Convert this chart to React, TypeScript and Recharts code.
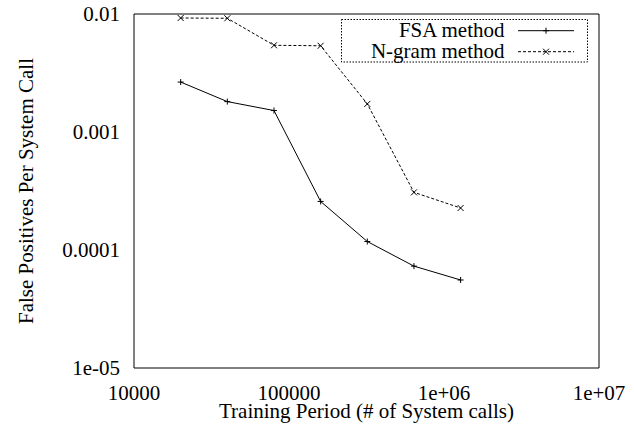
import { LineChart, Line, XAxis, YAxis, Legend, Label } from 'recharts';

const TRAINING_CALLS = [20000, 40000, 80000, 160000, 320000, 640000, 1280000];
const FSA_RATE = [0.00265, 0.00181, 0.00152, 0.000258, 0.000118, 0.000073, 0.0000557];
const NGRAM_RATE = [0.00925, 0.0092, 0.00543, 0.00538, 0.00173, 0.000308, 0.000227];

const X_TICKS = [1e4, 1e5, 1e6, 1e7];
const X_TICK_LABELS = ['10000', '100000', '1e+06', '1e+07'];
const X_MINOR_TICKS = [
  2e4, 3e4, 4e4, 5e4, 6e4, 7e4, 8e4, 9e4,
  2e5, 3e5, 4e5, 5e5, 6e5, 7e5, 8e5, 9e5,
  2e6, 3e6, 4e6, 5e6, 6e6, 7e6, 8e6, 9e6,
];
const Y_TICKS = [1e-5, 1e-4, 1e-3, 1e-2];
const Y_TICK_LABELS = ['1e-05', '0.0001', '0.001', '0.01'];
const Y_MINOR_TICKS = [
  2e-5, 3e-5, 4e-5, 5e-5, 6e-5, 7e-5, 8e-5, 9e-5,
  2e-4, 3e-4, 4e-4, 5e-4, 6e-4, 7e-4, 8e-4, 9e-4,
  2e-3, 3e-3, 4e-3, 5e-3, 6e-3, 7e-3, 8e-3, 9e-3,
];

const SERIES = [
  { key: 'fsa', name: 'FSA method', dash: undefined as string | undefined, marker: 'plus' },
  { key: 'ngram', name: 'N-gram method', dash: '3 2', marker: 'cross' },
];

const data = TRAINING_CALLS.map((x, i) => ({ x, fsa: FSA_RATE[i], ngram: NGRAM_RATE[i] }));

const FONT = '"Liberation Serif", "Times New Roman", serif';
const X_DOMAIN = [1e4, 1e7];
const Y_DOMAIN = [1e-5, 1e-2];

function Marker({ cx, cy, kind }: { cx: number; cy: number; kind: string }) {
  const r = 3;
  if (kind === 'plus') {
    return (
      <g stroke="#000" strokeWidth={1}>
        <line x1={cx - r} y1={cy} x2={cx + r} y2={cy} />
        <line x1={cx} y1={cy - r} x2={cx} y2={cy + r} />
      </g>
    );
  }
  return (
    <g stroke="#000" strokeWidth={1}>
      <line x1={cx - r} y1={cy - r} x2={cx + r} y2={cy + r} />
      <line x1={cx - r} y1={cy + r} x2={cx + r} y2={cy - r} />
    </g>
  );
}

function KeyBox() {
  return (
    <svg width={247} height={44} style={{ display: 'block', overflow: 'visible' }}>
      <rect x={0.5} y={0.5} width={246} height={42.5} fill="#fff" stroke="#000" strokeWidth={1} strokeDasharray="1.5 1.5" />
      {SERIES.map((s, i) => {
        const cy = 11.7 + i * 21;
        return (
          <g key={s.key}>
            <text x={163.5} y={cy + 6.5} textAnchor="end" fontFamily={FONT} fontSize={21} fill="#000">
              {s.name}
            </text>
            <line x1={177} y1={cy} x2={233} y2={cy} stroke="#000" strokeWidth={1} strokeDasharray={s.dash} />
            <Marker cx={205} cy={cy} kind={s.marker} />
          </g>
        );
      })}
    </svg>
  );
}

const tickStyle = { fill: '#000', fontSize: 21, fontFamily: FONT };

export default function App() {
  return (
    <div style={{ position: 'absolute', left: 0, top: 0, background: '#fff' }}>
      <LineChart width={634} height={434} data={data} margin={{ top: 14, right: 35, left: 0, bottom: 0 }}>
        {/* main axes: labels only */}
        <XAxis
          xAxisId="x"
          dataKey="x"
          type="number"
          scale="log"
          domain={X_DOMAIN}
          allowDataOverflow
          ticks={X_TICKS}
          interval={0}
          height={66}
          tickLine={false}
          tickSize={0}
          tickMargin={17}
          axisLine={{ stroke: '#000', strokeWidth: 1 }}
          tick={tickStyle}
          tickFormatter={(v: number) => X_TICK_LABELS[X_TICKS.indexOf(v)] ?? String(v)}
        >
          <Label
            content={({ viewBox }: any) => (
              <text x={viewBox.x + viewBox.width / 2} y={418} textAnchor="middle" fontFamily={FONT} fontSize={21} fill="#000">
                Training Period (# of System calls)
              </text>
            )}
          />
        </XAxis>
        <YAxis
          yAxisId="y"
          type="number"
          scale="log"
          domain={Y_DOMAIN}
          allowDataOverflow
          ticks={Y_TICKS}
          interval={0}
          width={134}
          tickLine={false}
          tickSize={0}
          tickMargin={14}
          axisLine={{ stroke: '#000', strokeWidth: 1 }}
          tick={tickStyle}
          tickFormatter={(v: number) => Y_TICK_LABELS[Y_TICKS.indexOf(v)] ?? String(v)}
        >
          <Label
            content={({ viewBox }: any) => {
              const cy = viewBox.y + viewBox.height / 2;
              return (
                <text x={33} y={cy} transform={`rotate(-90, 33, ${cy})`} textAnchor="middle" fontFamily={FONT} fontSize={21} fill="#000">
                  False Positives Per System Call
                </text>
              );
            }}
          />
        </YAxis>

        {/* inward tick marks on all four sides */}
        <XAxis xAxisId="xb1" type="number" scale="log" domain={X_DOMAIN} allowDataOverflow mirror ticks={X_TICKS} interval={0} tick={false} tickSize={5} axisLine={false} tickLine={{ stroke: '#000' }} />
        <XAxis xAxisId="xb2" type="number" scale="log" domain={X_DOMAIN} allowDataOverflow mirror ticks={X_MINOR_TICKS} interval={0} tick={false} tickSize={2.5} axisLine={false} tickLine={{ stroke: '#000' }} />
        <XAxis xAxisId="xt1" orientation="top" type="number" scale="log" domain={X_DOMAIN} allowDataOverflow mirror ticks={X_TICKS} interval={0} tick={false} tickSize={5} axisLine={{ stroke: '#000' }} tickLine={{ stroke: '#000' }} />
        <XAxis xAxisId="xt2" orientation="top" type="number" scale="log" domain={X_DOMAIN} allowDataOverflow mirror ticks={X_MINOR_TICKS} interval={0} tick={false} tickSize={2.5} axisLine={false} tickLine={{ stroke: '#000' }} />
        <YAxis yAxisId="yl1" type="number" scale="log" domain={Y_DOMAIN} allowDataOverflow mirror ticks={Y_TICKS} interval={0} tick={false} tickSize={5} axisLine={false} tickLine={{ stroke: '#000' }} />
        <YAxis yAxisId="yl2" type="number" scale="log" domain={Y_DOMAIN} allowDataOverflow mirror ticks={Y_MINOR_TICKS} interval={0} tick={false} tickSize={2.5} axisLine={false} tickLine={{ stroke: '#000' }} />
        <YAxis yAxisId="yr1" orientation="right" type="number" scale="log" domain={Y_DOMAIN} allowDataOverflow mirror ticks={Y_TICKS} interval={0} tick={false} tickSize={5} axisLine={{ stroke: '#000' }} tickLine={{ stroke: '#000' }} />
        <YAxis yAxisId="yr2" orientation="right" type="number" scale="log" domain={Y_DOMAIN} allowDataOverflow mirror ticks={Y_MINOR_TICKS} interval={0} tick={false} tickSize={2.5} axisLine={false} tickLine={{ stroke: '#000' }} />

        {SERIES.map((s) => (
          <Line
            key={s.key}
            xAxisId="x"
            yAxisId="y"
            dataKey={s.key}
            name={s.name}
            type="linear"
            stroke="#000"
            strokeWidth={1}
            strokeDasharray={s.dash}
            isAnimationActive={false}
            dot={(p: any) => <Marker key={`${s.key}-${p.index}`} cx={p.cx} cy={p.cy} kind={s.marker} />}
            activeDot={false}
          />
        ))}

        <Legend
          layout="horizontal"
          verticalAlign="middle"
          align="center"
          content={() => <KeyBox />}
          wrapperStyle={{ top: 19, left: 340.5, width: 247, height: 44 }}
        />
      </LineChart>
    </div>
  );
}
